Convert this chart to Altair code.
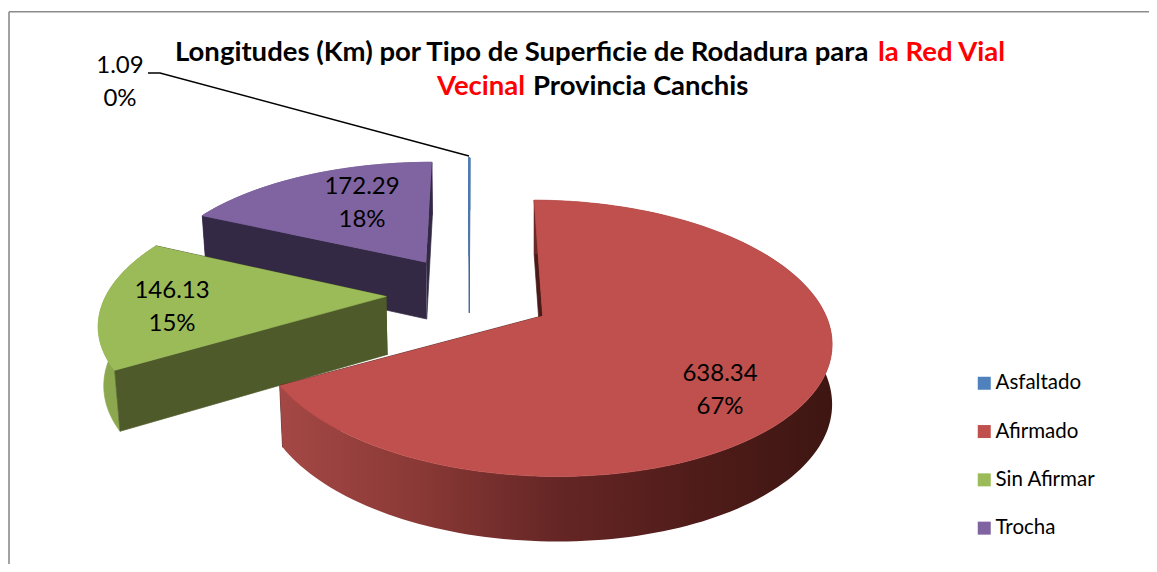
import math
import altair as alt
import pandas as pd

# ---- data
categories = ["Asfaltado", "Afirmado", "Sin Afirmar", "Trocha"]
values = [1.09, 638.34, 146.13, 172.29]
percents = ["0%", "67%", "15%", "18%"]
top_colors = ["#4F81BD", "#C0504D", "#9BBB59", "#8064A2"]
arc_wall_colors = ["#4F81BD", "#8A3936", "#8CA84F", "#6A5187"]
cut_wall_colors = ["#3F6797", "#4A1B19", "#4E5A2A", "#332944"]

# ---- layout of the 3-D pie
W, H = 1141, 556
OX, OY = 469, 295
RY = 127
PERSP = 0.18
EXPLODE = 0.27
DEPTH = 58
SHRINK = 0.015
FONT = "Lato"
slice_rx = [280, 275, 280, 280]
slice_dx = [0, 8, -7, -4]
slice_dy = [-6, 0, 0, -5]
slice_start_shift = [0, 0, -2, 0]
red_stops = [(0.0, "#A44845"), (0.25, "#8A3936"), (0.5, "#652625"), (0.75, "#501C1A"), (1.0, "#3E1611")]


def project(u, v, idx):
    d = 1 + PERSP * v
    x = OX + slice_dx[idx] + slice_rx[idx] * u / d
    y = OY + slice_dy[idx] - RY * v / d
    depth = DEPTH / math.sqrt(d)
    inward = SHRINK * (OX - x) if (x < OX and idx != 0) else 0
    return x, y, x + inward, y + depth


rows = {"back": [], "red_wall": [], "red_top": []}
poly = 0


def add(bucket, points, color, width=0.7):
    global poly
    poly += 1
    for i, (x, y) in enumerate(points):
        rows[bucket].append(dict(px=x, py=y, ord=i, poly=f"p{poly:05d}", col=color, sw=width))


total = sum(values)
spans = []
a = 0.0
for val in values:
    spans.append((a, a + val / total * 360))
    a += val / total * 360

# painter's order: back slices first
for idx in [0, 3, 2, 1]:
    a0, a1 = spans[idx]
    mid = math.radians((a0 + a1) / 2)
    cu, cv = EXPLODE * math.sin(mid), EXPLODE * math.cos(mid)
    a0 += slice_start_shift[idx]
    if idx == 0:
        a0, a1 = -0.15, 0.15
    n = max(2, int((a1 - a0) / 1.5))
    angs = [math.radians(a0 + (a1 - a0) * i / n) for i in range(n + 1)]
    rim = [project(cu + math.sin(t), cv + math.cos(t), idx) for t in angs]
    apex = list(project(cu, cv, idx))
    if idx == 1:
        apex[1] += 3
        apex[3] += 3
    w = 1.0 if idx == 0 else 0.7

    def cuts():
        for e in (rim[0], rim[-1]):
            add("back", [(apex[0], apex[1]), (e[0], e[1]), (e[2], e[3]), (apex[2], apex[3])], cut_wall_colors[idx], w)

    arc = [(p[0], p[1]) for p in rim] + [(p[2], p[3]) for p in reversed(rim)]
    if idx == 1:
        cuts()
        add("red_wall", arc, arc_wall_colors[idx], w)
        add("red_top", [(apex[0], apex[1])] + [(p[0], p[1]) for p in rim], top_colors[idx], w)
    else:
        add("back", arc, arc_wall_colors[idx], w)
        cuts()
        add("back", [(apex[0], apex[1])] + [(p[0], p[1]) for p in rim], top_colors[idx], w)

x_s = alt.Scale(domain=[8, 8 + W], range=[0, W], nice=False, zero=False)
y_s = alt.Scale(domain=[8, 8 + H], range=[0, H], nice=False, zero=False)
X = lambda f: alt.X(f, type="quantitative", scale=x_s, axis=None)
Y = lambda f: alt.Y(f, type="quantitative", scale=y_s, axis=None)

# legend carrier, hidden below the red slice
legend_df = pd.DataFrame({"cat": categories, "px": [560] * 4, "py": [320] * 4})
legend_layer = alt.Chart(legend_df).mark_square(size=4, opacity=1).encode(
    x=X("px"), y=Y("py"),
    color=alt.Color("cat:N", scale=alt.Scale(domain=categories, range=top_colors),
                    legend=alt.Legend(orient="none", legendX=966, legendY=365, title=None,
                                      symbolType="square", symbolSize=169, symbolStrokeWidth=0,
                                      symbolOpacity=1,
                                      labelFont=FONT, labelFontSize=20.5, labelColor="#000000",
                                      labelOffset=1, rowPadding=27.3, labelLimit=200)),
)


def poly_layer(key):
    return alt.Chart(pd.DataFrame(rows[key])).mark_line(interpolate="linear").encode(
        x=X("px"), y=Y("py"), order=alt.Order("ord:Q"), detail="poly:N",
        fill=alt.Fill("col:N", scale=None),
        stroke=alt.Stroke("col:N", scale=None),
        strokeWidth=alt.StrokeWidth("sw:Q", scale=None),
    )


red_gradient = alt.LinearGradient(
    gradient="linear", x1=0, x2=1, y1=0, y2=0,
    stops=[alt.GradientStop(offset=o, color=c) for o, c in red_stops],
)
red_wall_layer = alt.Chart(pd.DataFrame(rows["red_wall"])).mark_line(
    interpolate="linear", fill=red_gradient, strokeWidth=0).encode(
    x=X("px"), y=Y("py"), order=alt.Order("ord:Q"))

# frame and leader
frame_df = pd.DataFrame({"px": [9, 9], "py": [11.7, 11.7], "px2": [1149, 9], "py2": [11.7, 564]})
frame = alt.Chart(frame_df).mark_rule(color="#8C8C8C", strokeWidth=1.6).encode(
    x=X("px"), y=Y("py"), x2="px2:Q", y2="py2:Q")

leader_df = pd.DataFrame({"px": [148, 160, 469], "py": [73, 73, 156], "ord": [0, 1, 2]})
leader = alt.Chart(leader_df).mark_line(color="#000000", strokeWidth=1.3).encode(
    x=X("px"), y=Y("py"), order=alt.Order("ord:Q"))

# data labels
label_x = [120, 720, 172, 362]
label_y = [66, 373.5, 290.5, 186.5]
label_rows = []
for i, v in enumerate(values):
    label_rows.append(dict(px=label_x[i], py=label_y[i], t=f"{v:.2f}"))
    label_rows.append(dict(px=label_x[i], py=label_y[i] + 33, t=percents[i]))
labels = alt.Chart(pd.DataFrame(label_rows)).mark_text(
    font=FONT, fontSize=24, color="#000000", align="center", baseline="middle").encode(
    x=X("px"), y=Y("py"), text="t:N")

# title
title_df = pd.DataFrame([
    dict(px=175, py=53, t="Longitudes (Km) por Tipo de Superficie de Rodadura para", c="#000000"),
    dict(px=878, py=53, t="la Red Vial", c="#FF0000"),
    dict(px=437, py=87, t="Vecinal", c="#FF0000"),
    dict(px=533, py=87, t="Provincia Canchis", c="#000000"),
])
title = alt.Chart(title_df).mark_text(
    font=FONT, fontSize=27.5, fontWeight="bold", align="left", baseline="middle").encode(
    x=X("px"), y=Y("py"), text="t:N", fill=alt.Fill("c:N", scale=None))

chart = alt.layer(legend_layer, frame, poly_layer("back"), red_wall_layer, poly_layer("red_top"),
                  leader, labels, title).properties(
    width=W, height=H, padding=0, autosize=alt.AutoSizeParams(type="none"),
    background="#FFFFFF",
).configure_view(stroke=None)

chart.save("out.html", embed_options={"renderer": "svg", "actions": False})
